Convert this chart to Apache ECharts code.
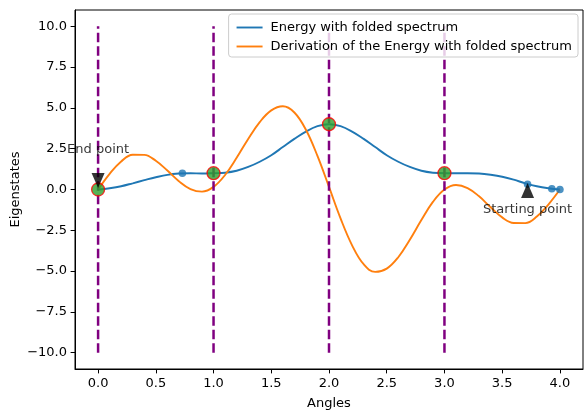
<!DOCTYPE html>
<html>
<head>
<meta charset="utf-8">
<script src="https://cdn.jsdelivr.net/npm/echarts@6/dist/echarts.min.js"></script>
<style>
  html, body { margin: 0; padding: 0; background: #fff; }
  #chart { width: 584px; height: 413px; }
</style>
</head>
<body>
<div id="chart"></div>
<script>
// Sample positions along the angle axis
const angles = [0.0, 0.1, 0.2, 0.3, 0.4, 0.5, 0.6, 0.7, 0.8, 0.9,
                1.0, 1.1, 1.2, 1.3, 1.4, 1.5, 1.6, 1.7, 1.8, 1.9,
                2.0, 2.1, 2.2, 2.3, 2.4, 2.5, 2.6, 2.7, 2.8, 2.9,
                3.0, 3.1, 3.2, 3.3, 3.4, 3.5, 3.6, 3.7, 3.8, 3.9, 4.0];

// Energy with folded spectrum
const energy = [0.0, 0.08, 0.2, 0.38, 0.57, 0.75, 0.9, 0.98, 1.0, 0.98,
                1.0, 1.03, 1.15, 1.38, 1.7, 2.1, 2.6, 3.1, 3.55, 3.88,
                4.0, 3.88, 3.55, 3.1, 2.6, 2.1, 1.7, 1.38, 1.15, 1.03,
                1.0, 1.0, 1.0, 0.98, 0.9, 0.78, 0.6, 0.38, 0.2, 0.08, 0.0];

// Derivation of the energy
const derivation = [0.0, 0.96, 1.72, 2.13, 2.12, 1.76, 1.16, 0.51, 0.03, -0.13,
                    0.16, 0.89, 1.94, 3.10, 4.13, 4.85, 5.10, 4.72, 3.66, 2.06,
                    0.16, -1.77, -3.42, -4.58, -5.05, -4.85, -4.15, -3.08, -1.87, -0.76,
                    0.0, 0.28, 0.09, -0.42, -1.09, -1.71, -2.05, -2.06, -1.66, -0.92, 0.0];

// Optimiser steps
const stepX = [0.73, 3.72, 3.93, 4.0];
const stepY = [1.0, 0.32, 0.05, 0.0];

// Eigenstate points
const eigenX = [0, 1, 2, 3];
const eigenY = [0, 1, 4, 1];

// Vertical guide lines
const guideX = [0, 1, 2, 3];
const guideSpan = [-10, 10];

// Annotations
const endMarker = [0, 0.55];
const startMarker = [3.72, -0.06];
const endLabel = [0, 2.43, 'End point'];
const startLabel = [3.72, -1.26, 'Starting point'];

const xTicks = [0, 0.5, 1, 1.5, 2, 2.5, 3, 3.5, 4];
const yTicks = [-10, -7.5, -5, -2.5, 0, 2.5, 5, 7.5, 10];

const FONT = 'DejaVu Sans';
const FS = 13;
const fmt = v => (v < 0 ? '\u2212' : '') + Math.abs(v).toFixed(1);

const pairs = (xs, ys) => xs.map((x, i) => [x, ys[i]]);

const series = [
  {
    name: 'Energy with folded spectrum',
    type: 'line',
    data: pairs(angles, energy),
    smooth: 0.4,
    symbol: 'none',
    lineStyle: { color: '#1f77b4', width: 1.9 },
    itemStyle: { color: '#1f77b4' },
    z: 2
  },
  {
    name: 'Derivation of the Energy with folded spectrum',
    type: 'line',
    data: pairs(angles, derivation),
    smooth: 0.4,
    symbol: 'none',
    lineStyle: { color: '#ff7f0e', width: 1.9 },
    itemStyle: { color: '#ff7f0e' },
    z: 3
  }
];

guideX.forEach(x => {
  series.push({
    type: 'line',
    data: guideSpan.map(y => [x, y]),
    symbol: 'none',
    silent: true,
    lineStyle: { color: '#800080', width: 2.5, type: [9.4, 4.1], cap: 'butt' },
    z: 4
  });
});

series.push(
  {
    type: 'scatter',
    data: pairs(stepX, stepY),
    symbol: 'circle',
    symbolSize: 7.6,
    itemStyle: { color: '#1f77b4' },
    z: 5
  },
  {
    type: 'scatter',
    data: pairs(eigenX, eigenY),
    symbol: 'circle',
    symbolSize: 13,
    itemStyle: { color: '#2ca02c', borderColor: '#ff0000', borderWidth: 1.3 },
    z: 6
  },
  {
    type: 'scatter',
    data: [endMarker],
    symbol: 'triangle',
    symbolRotate: 180,
    symbolSize: [13, 15],
    itemStyle: { color: '#000' },
    clip: false,
    z: 7
  },
  {
    type: 'scatter',
    data: [startMarker],
    symbol: 'triangle',
    symbolSize: [13, 15],
    itemStyle: { color: '#000' },
    clip: false,
    z: 7
  },
  {
    type: 'scatter',
    data: [endLabel, startLabel].map(a => ({ value: [a[0], a[1]], label: { formatter: a[2] } })),
    symbolSize: 1,
    itemStyle: { color: 'transparent' },
    clip: false,
    label: {
      show: true,
      position: 'inside',
      color: '#000',
      fontFamily: FONT,
      fontSize: FS
    },
    z: 8
  }
);

const chart = echarts.init(document.getElementById('chart'), null, { renderer: 'canvas' });
chart.setOption({
  animation: false,
  backgroundColor: '#fff',
  grid: {
    left: 75, right: 1, top: 10, bottom: 44,
    outerBoundsMode: 'none',
    containLabel: false,
    show: true, borderColor: '#000', borderWidth: 1, backgroundColor: 'transparent'
  },
  legend: {
    data: ['Energy with folded spectrum', 'Derivation of the Energy with folded spectrum'],
    orient: 'vertical',
    right: 6,
    top: 14,
    itemWidth: 26,
    itemHeight: 13,
    itemGap: 6,
    padding: [7, 6, 4, 7],
    borderColor: '#cccccc',
    borderWidth: 1,
    borderRadius: 3,
    backgroundColor: 'rgba(255,255,255,0.8)',
    itemStyle: { opacity: 0 },
    lineStyle: { width: 1.9 },
    textStyle: { color: '#000', fontFamily: FONT, fontSize: FS, padding: [0, 0, 0, 3] },
    z: 20
  },
  xAxis: {
    type: 'value',
    min: -0.2,
    max: 4.2,
    name: 'Angles',
    nameLocation: 'middle',
    nameGap: 28,
    nameMoveOverlap: false,
    nameTextStyle: { color: '#000', fontFamily: FONT, fontSize: FS },
    axisLine: { show: true, onZero: false, lineStyle: { color: '#000', width: 1 } },
    axisTick: { show: true, inside: false, length: 4.4, customValues: xTicks, lineStyle: { color: '#000', width: 1 } },
    axisLabel: { customValues: xTicks, formatter: fmt, color: '#000', fontFamily: FONT, fontSize: FS, margin: 8 },
    splitLine: { show: false }
  },
  yAxis: {
    type: 'value',
    min: -11,
    max: 11,
    name: 'Eigenstates',
    nameLocation: 'middle',
    nameGap: 53,
    nameRotate: 90,
    nameMoveOverlap: false,
    nameTextStyle: { color: '#000', fontFamily: FONT, fontSize: FS },
    axisLine: { show: true, onZero: false, lineStyle: { color: '#000', width: 1 } },
    axisTick: { show: true, inside: false, length: 4.4, customValues: yTicks, lineStyle: { color: '#000', width: 1 } },
    axisLabel: { customValues: yTicks, formatter: fmt, color: '#000', fontFamily: FONT, fontSize: FS, margin: 8 },
    splitLine: { show: false }
  },
  series: series
});
</script>
</body>
</html>
